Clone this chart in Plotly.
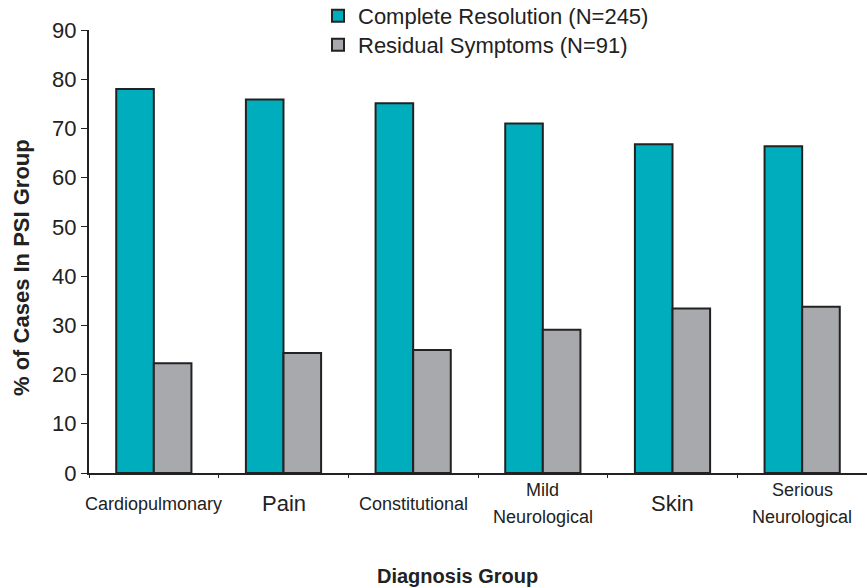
import plotly.graph_objects as go

categories = ["Cardiopulmonary", "Pain", "Constitutional", "Mild Neurological", "Skin", "Serious Neurological"]
tick_lines = [["Cardiopulmonary"], ["Pain"], ["Constitutional"], ["Mild", "Neurological"], ["Skin"], ["Serious", "Neurological"]]
condensed_labels = [True, False, True, True, False, True]
complete_resolution = [78.0, 75.9, 75.1, 71.0, 66.8, 66.4]
residual_symptoms = [22.3, 24.4, 25.0, 29.1, 33.4, 33.8]
series_names = ["Complete Resolution (N=245)", "Residual Symptoms (N=91)"]
y_ticks = [0, 10, 20, 30, 40, 50, 60, 70, 80, 90]

# the page's body margin is removed by post_script, so figure coords == page coords
W, H = 867, 588
ML, MR = 89, 0
MT = 30
MB = H - 473
plot_w = W - ML - MR
plot_h = H - MT - MB


def py(page_y):
    return 1 - (page_y - MT) / plot_h


def px(page_x):
    return (page_x - ML) / plot_w


fig = go.Figure()
fig.add_trace(go.Bar(x=categories, y=complete_resolution, name=series_names[0], legend="legend",
                     marker=dict(color="#00ADBC", line=dict(color="#222222", width=2))))
fig.add_trace(go.Bar(x=categories, y=residual_symptoms, name=series_names[1], legend="legend2",
                     marker=dict(color="#A8A9AD", line=dict(color="#222222", width=2))))

annotations = []
for cat, lines, cond in zip(categories, tick_lines, condensed_labels):
    if len(lines) == 1:
        ys = [503.5]
    else:
        ys = [490, 516.5]
    for line, yy in zip(lines, ys):
        annotations.append(dict(
            x=cat, xref="x", y=py(yy), yref="paper", text=line, showarrow=False,
            xanchor="center", yanchor="middle",
            font=dict(family="Liberation Sans", size=18 if cond else 22, color="#222222"),
        ))

annotations.append(dict(
    x=px(457), xref="paper", y=py(576), yref="paper",
    text="<b>Diagnosis Group</b>", showarrow=False, xanchor="center", yanchor="middle",
    font=dict(family="Liberation Sans", size=20, color="#222222"),
))
annotations.append(dict(
    x=px(21), xref="paper", y=py(268), yref="paper",
    text="<b>% of Cases In PSI Group</b>", textangle=-90, showarrow=False,
    xanchor="center", yanchor="middle",
    font=dict(family="Liberation Sans", size=22, color="#222222"),
))

legend_common = dict(
    xanchor="left", yanchor="middle",
    font=dict(family="Liberation Sans", size=22, color="#222222"),
    bgcolor="rgba(0,0,0,0)", tracegroupgap=0, itemwidth=30,
)

fig.update_layout(
    width=W, height=H,
    margin=dict(l=ML, r=MR, t=MT, b=MB, pad=0, autoexpand=False),
    paper_bgcolor="white", plot_bgcolor="white",
    barmode="group", bargap=0.42, bargroupgap=0,
    font=dict(family="Liberation Sans", color="#222222"),
    showlegend=True,
    legend=dict(x=px(318), y=py(16), **legend_common),
    legend2=dict(x=px(318), y=py(45), **legend_common),
    annotations=annotations,
)
fig.update_xaxes(
    showline=True, linecolor="#222222", linewidth=2,
    ticks="outside", tickson="boundaries", ticklen=3, tickcolor="#222222",
    showticklabels=False, showgrid=False, zeroline=False,
    range=[-0.5, 5.5],
)
fig.update_yaxes(
    range=[0, 90], tickvals=y_ticks, showline=True, linecolor="#222222", linewidth=2,
    ticks="outside", ticklen=6, tickcolor="#222222", showgrid=False, zeroline=False,
    tickfont=dict(family="Liberation Sans", size=22, color="#222222"),
)

fig.write_html(
    "out.html",
    config={"displayModeBar": False},
    post_script="document.body.style.margin='0';document.body.style.overflow='hidden';",
)
